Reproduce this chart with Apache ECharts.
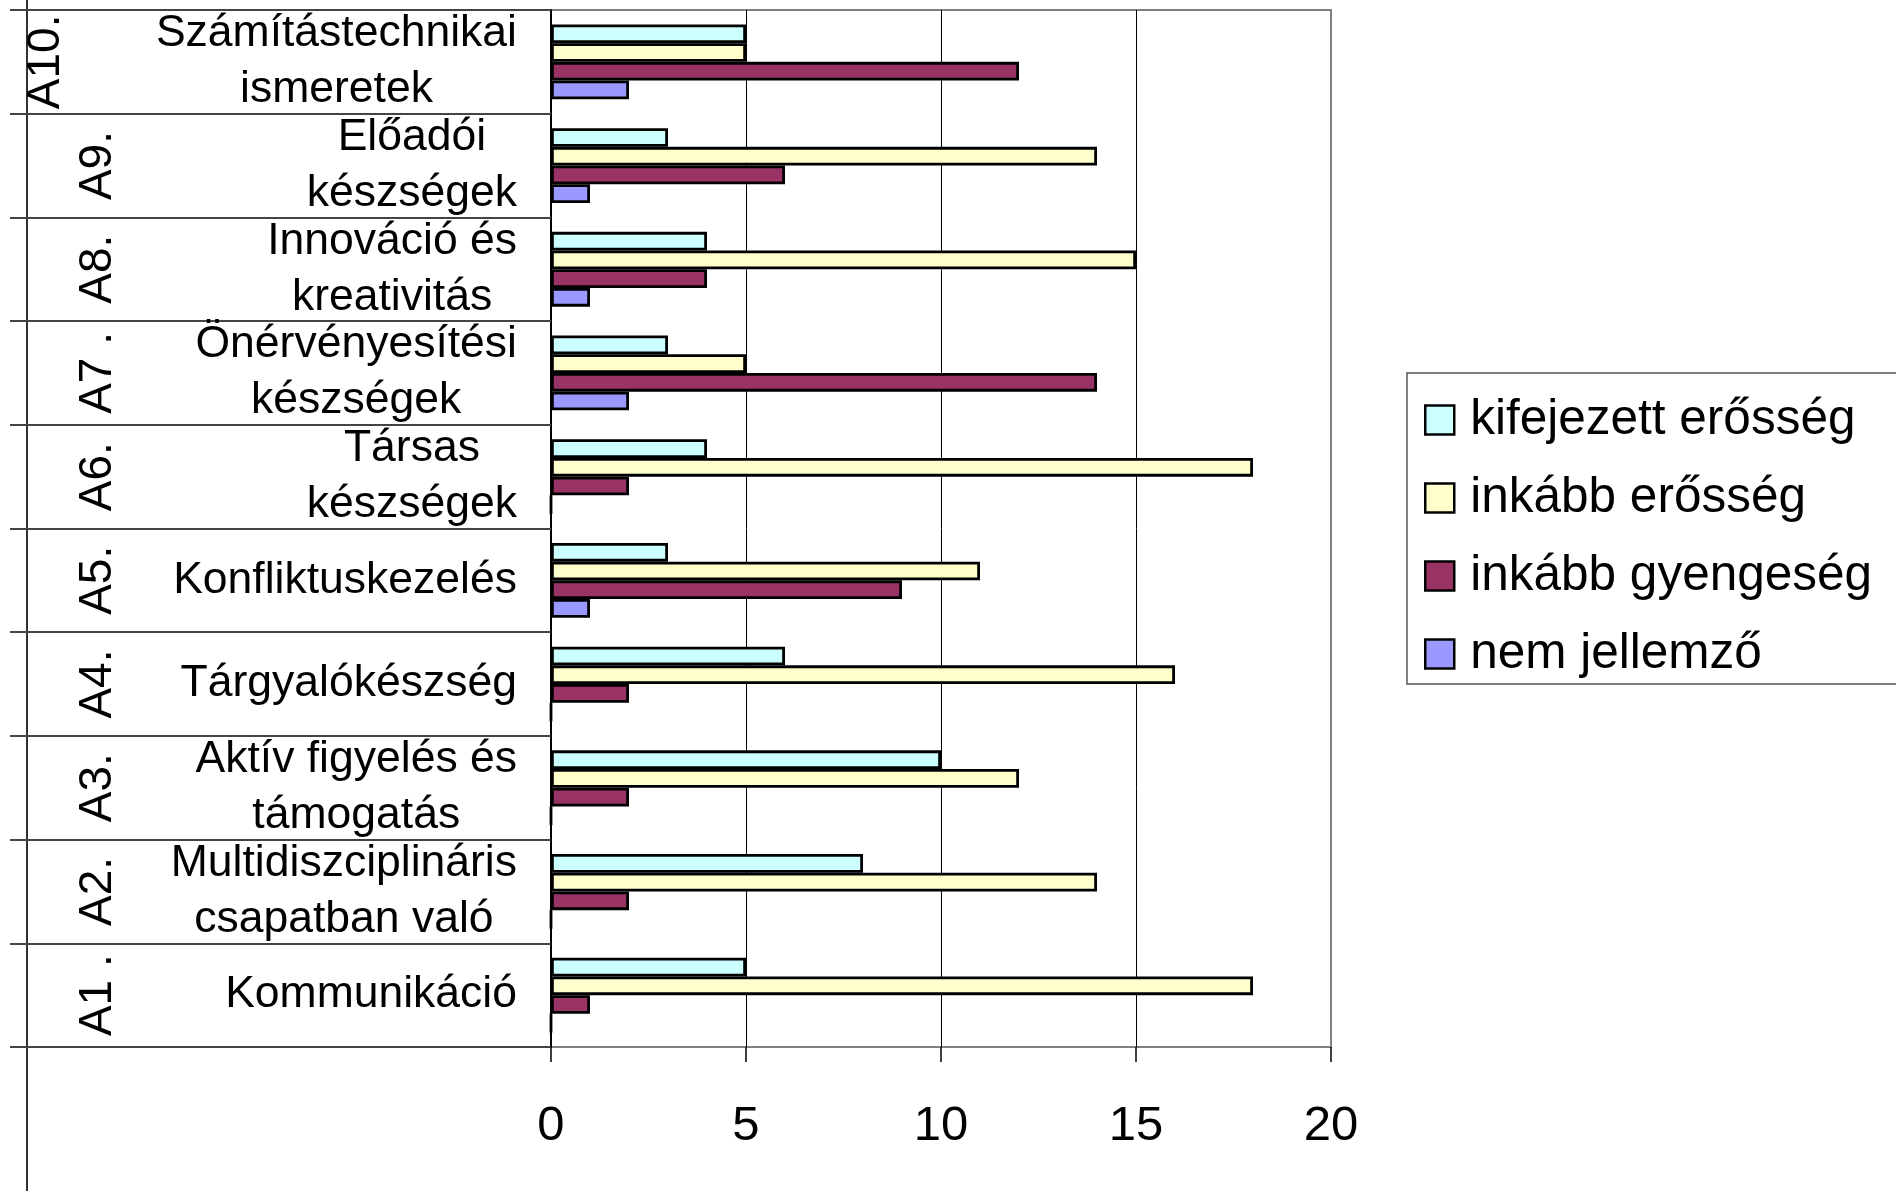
<!DOCTYPE html>
<html>
<head>
<meta charset="utf-8">
<title>Kompetenciák</title>
<script src="https://cdn.jsdelivr.net/npm/echarts@6.0.0/dist/echarts.min.js"></script>
<style>
  html, body { margin: 0; padding: 0; background: #fff; }
  #chart { width: 1896px; height: 1191px; }
</style>
</head>
<body>
<div id="chart"></div>
<script>
// kategóriák alulról felfelé
var codes = ['A1 .', 'A2.', 'A3.', 'A4.', 'A5.', 'A6.', 'A7 .', 'A8.', 'A9.', 'A10.']
var categories = [
  'Kommunikáció',
  'Multidiszciplináris\ncsapatban való',
  'Aktív figyelés és\ntámogatás',
  'Tárgyalókészség',
  'Konfliktuskezelés',
  'Társas\nkészségek',
  'Önérvényesítési\nkészségek',
  'Innováció és\nkreativitás',
  'Előadói\nkészségek',
  'Számítástechnikai\nismeretek'
]
var seriesNames = ['kifejezett erősség', 'inkább erősség', 'inkább gyengeség', 'nem jellemző']
var kifejezettEros = [5, 8, 10, 6, 3, 4, 3, 4, 3, 5]
var inkabbEros = [18, 14, 12, 16, 11, 18, 5, 15, 14, 5]
var inkabbGyenge = [1, 2, 2, 2, 9, 2, 14, 4, 6, 12]
var nemJellemzo = [0, 0, 0, 0, 1, 0, 2, 1, 1, 2]
var xTicks = [0, 5, 10, 15, 20]

var FONT = '"Liberation Sans", Arial, sans-serif'
var colors = ['#CCFFFF', '#FFFFCC', '#993366', '#9999FF']
var values = [kifejezettEros, inkabbEros, inkabbGyenge, nemJellemzo]

var chart = echarts.init(document.getElementById('chart'))

var option = {
  backgroundColor: '#fff',
  animation: false,
  textStyle: { fontFamily: FONT },
  grid: {
    left: 551,
    right: 565,
    top: 10,
    bottom: 144,
    show: true,
    borderColor: '#808080',
    borderWidth: 2
  },
  legend: {
    orient: 'vertical',
    left: 1407,
    top: 373,
    data: seriesNames,
    itemWidth: 29,
    itemHeight: 29,
    itemGap: 28,
    padding: [22, 30, 5, 17],
    borderColor: '#555',
    borderWidth: 1.5,
    icon: 'rect',
    itemStyle: { borderColor: '#000', borderWidth: 2.5 },
    textStyle: { fontSize: 49.5, color: '#000', fontFamily: FONT, padding: [0, 0, 0, 11] }
  },
  xAxis: {
    type: 'value',
    min: xTicks[0],
    max: xTicks[xTicks.length - 1],
    interval: 5,
    axisLine: { show: false },
    axisTick: { show: true, length: 15, lineStyle: { color: '#000', width: 1.5 } },
    axisLabel: { fontSize: 49, color: '#000', margin: 55, fontFamily: FONT },
    splitLine: { show: true, showMinLine: false, showMaxLine: false, lineStyle: { color: '#000', width: 1 } }
  },
  yAxis: [{
    type: 'category',
    data: categories,
    position: 'left',
    axisLine: { show: true, lineStyle: { color: '#000', width: 2 } },
    axisTick: { show: true, interval: 0, length: 541, lineStyle: { color: '#444', width: 2 } },
    axisLabel: {
      interval: 0,
      margin: 34,
      formatter: function (val) {
        return val.split('\n').map(function (s) { return '{c|' + s + '}' }).join('\n')
      },
      rich: {
        c: { align: 'center', fontSize: 44.5, lineHeight: 56, color: '#000', fontFamily: FONT }
      }
    },
    splitLine: { show: false }
  }, {
    type: 'category',
    data: codes,
    position: 'left',
    offset: 524,
    axisLine: { show: false },
    axisTick: { show: false },
    axisLabel: {
      interval: 0,
      inside: true,
      rotate: 90,
      margin: 94,
      verticalAlign: 'bottom',
      align: 'center',
      fontSize: 46,
      color: '#000',
      fontFamily: FONT,
      formatter: function (val) {
        return val === 'A10.' ? '{far|' + val + '}' : '{n|' + val + '}'
      },
      rich: {
        n: { fontSize: 46, color: '#000', fontFamily: FONT },
        far: { fontSize: 46, color: '#000', fontFamily: FONT, padding: [0, 0, 52, 0] }
      }
    }
  }],
  graphic: [{
    type: 'line',
    shape: { x1: 27, y1: 0, x2: 27, y2: 1191 },
    style: { stroke: '#333', lineWidth: 2 }
  }],
  series: seriesNames.map(function (name, i) {
    return {
      name: name,
      type: 'bar',
      yAxisIndex: 0,
      barWidth: 18.7,
      barGap: '0%',
      itemStyle: { color: colors[i], borderColor: '#000', borderWidth: 2.8 },
      data: values[i]
    }
  })
}

chart.setOption(option)
</script>
</body>
</html>
